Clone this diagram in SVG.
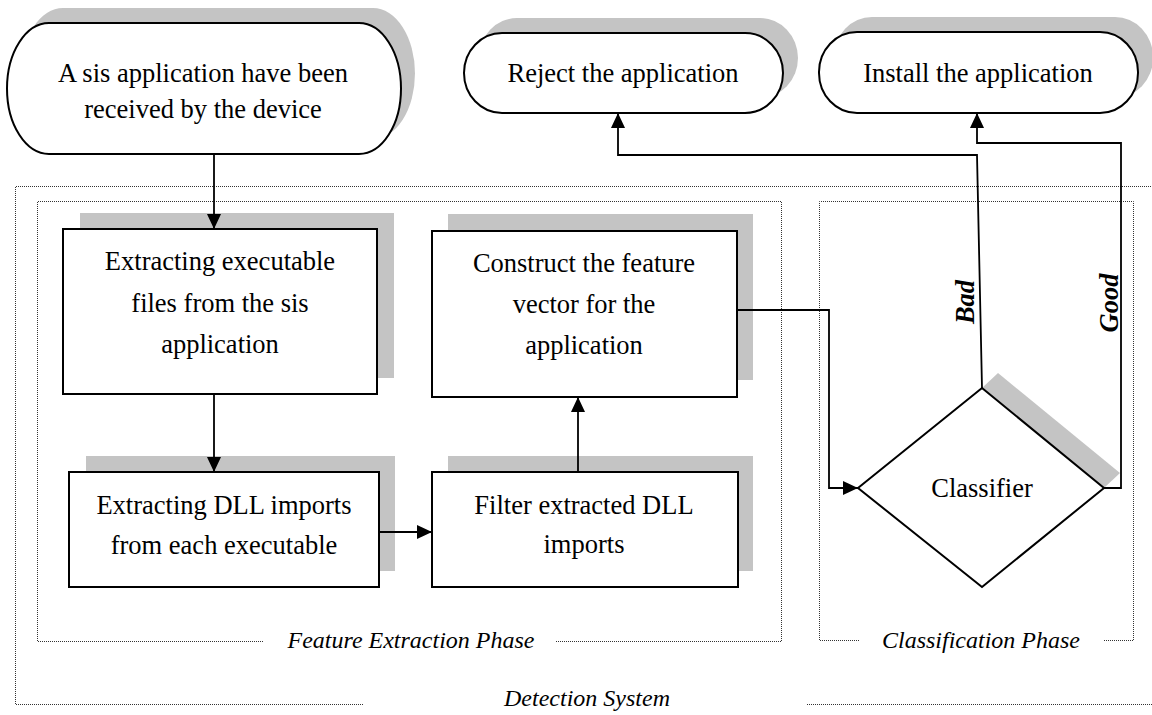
<svg xmlns="http://www.w3.org/2000/svg" width="1152" height="715" viewBox="0 0 1152 715">
<style>
text{font-family:"Liberation Serif","Times New Roman",serif;fill:#000}
.t{font-size:26.5px;text-anchor:middle}
.lab{font-size:24px;font-style:italic;text-anchor:middle}
.bi{font-size:26.5px;font-style:italic;font-weight:bold;text-anchor:middle}
.shape{fill:#fff;stroke:#000;stroke-width:2}
.sh{fill:#c4c4c4;stroke:none}
.dot{fill:none;stroke:#333;stroke-width:1;stroke-dasharray:1 1}
.con{fill:none;stroke:#000;stroke-width:1.8}
</style>
<defs>
<marker id="ah" markerUnits="userSpaceOnUse" markerWidth="16" markerHeight="14" refX="15" refY="7" orient="auto">
<path d="M0,0 L15,7 L0,14 Z" fill="#000"/>
</marker>
</defs>
<g id="frames">
<path class="dot" d="M363,704.5 H15.5 V186.5 H1155 M807,704.5 H1155"/>
<path class="dot" d="M263,641.5 H37.5 V201.5 H781.5 V641.5 H555"/>
<path class="dot" d="M859,640.5 H819.5 V201.5 H1133.5 V640.5 H1103"/>
<text class="lab" x="411" y="648">Feature Extraction Phase</text>
<text class="lab" x="981" y="648">Classification Phase</text>
<text class="lab" x="587" y="706">Detection System</text>
</g>
<g id="start">
<rect class="sh" x="21" y="8" width="394" height="131" rx="42" ry="65.5"/>
<rect class="shape" x="7" y="23" width="394" height="131" rx="42" ry="65.5"/>
<text class="t" x="203" y="82">A sis application have been</text>
<text class="t" x="203" y="118">received by the device</text>
</g>
<g id="reject">
<rect class="sh" x="479" y="18" width="319" height="80" rx="38" ry="40"/>
<rect class="shape" x="464" y="33" width="319" height="80" rx="38" ry="40"/>
<text class="t" x="623" y="82">Reject the application</text>
</g>
<g id="install">
<rect class="sh" x="834" y="17" width="319" height="81" rx="38" ry="40"/>
<rect class="shape" x="819" y="32" width="319" height="81" rx="38" ry="40"/>
<text class="t" x="978" y="82">Install the application</text>
</g>
<g id="extract-exe">
<rect class="sh" x="80" y="213" width="314" height="165"/>
<rect class="shape" x="63" y="229" width="314" height="165"/>
<text class="t" x="220" y="270">Extracting executable</text>
<text class="t" x="220" y="312">files from the sis</text>
<text class="t" x="220" y="353">application</text>
</g>
<g id="construct">
<rect class="sh" x="448" y="214" width="305" height="166"/>
<rect class="shape" x="432" y="231" width="305" height="166"/>
<text class="t" x="584" y="272">Construct the feature</text>
<text class="t" x="584" y="313">vector for the</text>
<text class="t" x="584" y="354">application</text>
</g>
<g id="extract-dll">
<rect class="sh" x="86" y="456" width="309" height="115"/>
<rect class="shape" x="69" y="472" width="310" height="115"/>
<text class="t" x="224" y="514">Extracting DLL imports</text>
<text class="t" x="224" y="554">from each executable</text>
</g>
<g id="filter">
<rect class="sh" x="448" y="456" width="305" height="115"/>
<rect class="shape" x="432" y="472" width="306" height="115"/>
<text class="t" x="584" y="514">Filter extracted DLL</text>
<text class="t" x="584" y="553">imports</text>
</g>
<g id="classifier">
<polygon class="sh" points="982,388 998,373 1120,473 1104,488"/>
<polygon class="shape" points="858,488 982,388 1104,488 982,587"/>
<text class="t" x="982" y="497">Classifier</text>
</g>
<g id="connectors">
<path class="con" d="M214,154 V229" marker-end="url(#ah)"/>
<path class="con" d="M214,394 V472" marker-end="url(#ah)"/>
<path class="con" d="M379,532 H432" marker-end="url(#ah)"/>
<path class="con" d="M578,472 V397" marker-end="url(#ah)"/>
<path class="con" d="M737,310 H829 V488 H858" marker-end="url(#ah)"/>
<path class="con" d="M982,388 L977,155 H618 V113" marker-end="url(#ah)"/>
<path class="con" d="M1104,488 H1121 V143 H977 V113" marker-end="url(#ah)"/>
<text class="bi" transform="translate(974,302) rotate(-90)">Bad</text>
<text class="bi" transform="translate(1118,303) rotate(-90)">Good</text>
</g>
</svg>
